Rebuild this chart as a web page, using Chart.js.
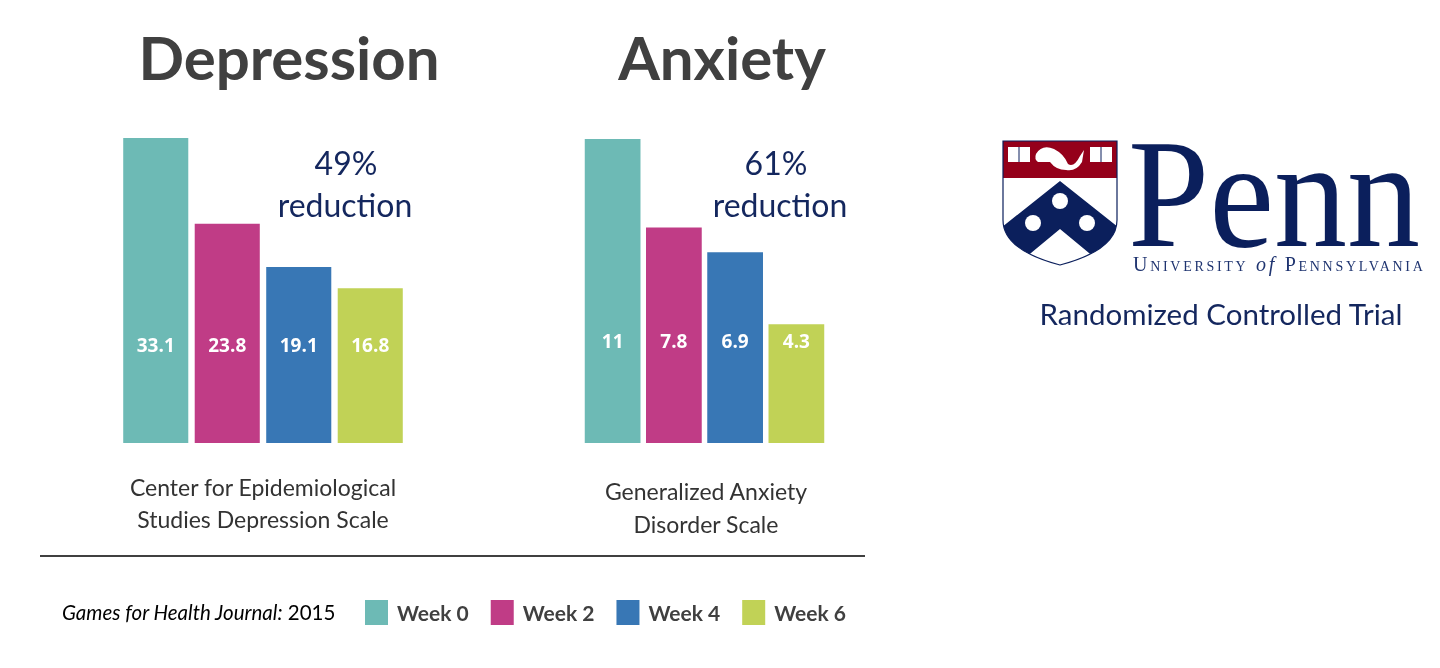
<!DOCTYPE html>
<html>
<head>
<meta charset="utf-8">
<script src="https://cdn.jsdelivr.net/npm/chart.js@4.4.0/dist/chart.umd.min.js"></script>
<style>
  body { margin: 0; background: #fff; width: 1440px; height: 668px; position: relative; overflow: hidden; }
  canvas, svg { position: absolute; }
  #depChart { left: 120px; top: 138px; }
  #anxChart { left: 582px; top: 139px; }
  #overlay { left: 0; top: 0; }
</style>
</head>
<body>
<canvas id="depChart" width="286" height="305"></canvas>
<canvas id="anxChart" width="245" height="304"></canvas>

<svg id="overlay" width="1440" height="668" xmlns="http://www.w3.org/2000/svg">
  <g font-family="Lato, sans-serif">
    <text x="289" y="80" text-anchor="middle" font-size="60" font-weight="bold" fill="#404040">Depression</text>
    <text x="722" y="80" text-anchor="middle" font-size="60" font-weight="bold" fill="#404040">Anxiety</text>

    <text x="346" y="175" text-anchor="middle" font-size="32" fill="#14275e">49%</text>
    <text x="345" y="217" text-anchor="middle" font-size="32" fill="#14275e">reduction</text>
    <text x="776" y="175" text-anchor="middle" font-size="32" fill="#14275e">61%</text>
    <text x="780" y="217" text-anchor="middle" font-size="32" fill="#14275e">reduction</text>

    <text x="263" y="496" text-anchor="middle" font-size="23" fill="#333">Center for Epidemiological</text>
    <text x="263" y="528" text-anchor="middle" font-size="23" fill="#333">Studies Depression Scale</text>
    <text x="706" y="500" text-anchor="middle" font-size="23" fill="#333">Generalized Anxiety</text>
    <text x="706" y="533" text-anchor="middle" font-size="23" fill="#333">Disorder Scale</text>

    <text x="62" y="620" font-size="20.5" fill="#000"><tspan font-style="italic">Games for Health Journal:</tspan> 2015</text>

    <text x="1221" y="325" text-anchor="middle" font-size="29.5" fill="#14275e">Randomized Controlled Trial</text>
  </g>
  <line x1="40" y1="556" x2="865" y2="556" stroke="#000" stroke-width="1.5"/>
  <g id="legend"></g>

  <!-- Penn shield -->
  <g transform="translate(1002,140)">
    <defs><clipPath id="shield"><path d="M1,1 H115 V80 Q115,110 58,125 Q1,110 1,80 Z"/></clipPath></defs>
    <g clip-path="url(#shield)">
      <rect x="0" y="0" width="116" height="126" fill="#fff"/>
      <rect x="0" y="0" width="116" height="38" fill="#95001a"/>
      <polygon points="58,41 116,87 116,137 58,89 0,137 0,87" fill="#0b1f5c"/>
      <circle cx="58" cy="61" r="8" fill="#fff"/>
      <circle cx="31" cy="83" r="8" fill="#fff"/>
      <circle cx="85" cy="83" r="8" fill="#fff"/>
      <!-- books -->
      <rect x="6" y="7" width="22" height="15" fill="#fff"/>
      <line x1="17" y1="7" x2="17" y2="22" stroke="#0b1f5c" stroke-width="1"/>
      <rect x="88" y="7" width="22" height="15" fill="#fff"/>
      <line x1="99" y1="7" x2="99" y2="22" stroke="#0b1f5c" stroke-width="1"/>
      <!-- dolphin -->
      <path d="M34,14 Q40,4 52,9 Q62,14 66,24 Q72,28 78,16 L82,10 L80,22 Q74,32 64,30 Q54,30 48,22 Q42,22 36,22 Q32,19 34,14 Z" fill="#fff"/>
    </g>
    <path d="M1,1 H115 V80 Q115,110 58,125 Q1,110 1,80 Z" fill="none" stroke="#0b1f5c" stroke-width="1.2"/>
  </g>
  <text x="1128" y="246" font-family="Liberation Serif, serif" font-size="155" fill="#0b1f5c" textLength="292" lengthAdjust="spacingAndGlyphs">Penn</text>
  <text x="1133" y="271" font-family="Liberation Serif, serif" font-size="20" fill="#1f3470" letter-spacing="2.7" font-variant="small-caps">University <tspan font-style="italic" font-variant="normal">of</tspan> Pennsylvania</text>
</svg>

<script>
var weeks = ['Week 0', 'Week 2', 'Week 4', 'Week 6'];
var weekColors = ['#6dbab5', '#c03c86', '#3877b5', '#c1d256'];
var depressionScores = [33.1, 23.8, 19.1, 16.8];
var anxietyScores = [11, 7.8, 6.9, 4.3];

// white numbers drawn inside the bars, a fixed distance above the baseline
var valueLabels = {
  id: 'valueLabels',
  afterDatasetsDraw: function(chart, args, opts) {
    var ctx = chart.ctx;
    var values = chart.data.datasets[0].data;
    ctx.save();
    ctx.font = 'bold 19px "Open Sans"';
    ctx.fillStyle = '#fff';
    ctx.textAlign = 'center';
    ctx.textBaseline = 'middle';
    chart.getDatasetMeta(0).data.forEach(function(bar, i) {
      ctx.fillText(String(values[i]), bar.x, chart.chartArea.bottom - opts.offset);
    });
    ctx.restore();
  }
};

function makeChart(id, scores, labelOffset) {
  return new Chart(document.getElementById(id), {
    type: 'bar',
    data: {
      labels: weeks,
      datasets: [{
        data: scores,
        backgroundColor: weekColors,
        borderWidth: 0,
        barPercentage: 1,
        categoryPercentage: 0.91
      }]
    },
    options: {
      responsive: false,
      animation: false,
      layout: { padding: 0 },
      plugins: {
        legend: { display: false },
        tooltip: { enabled: false },
        valueLabels: { offset: labelOffset }
      },
      scales: {
        x: { display: false },
        y: { display: false, min: 0, max: Math.max.apply(null, scores) }
      }
    },
    plugins: [valueLabels]
  });
}

var depChart = makeChart('depChart', depressionScores, 96);
var anxChart = makeChart('anxChart', anxietyScores, 100);

// legend boxes and names
var ns = 'http://www.w3.org/2000/svg';
var legend = document.getElementById('legend');
var lx = 365;
weeks.forEach(function(w, i) {
  var box = document.createElementNS(ns, 'rect');
  box.setAttribute('x', lx);
  box.setAttribute('y', 600);
  box.setAttribute('width', 23);
  box.setAttribute('height', 25);
  box.setAttribute('fill', weekColors[i]);
  legend.appendChild(box);
  var t = document.createElementNS(ns, 'text');
  t.setAttribute('x', lx + 32);
  t.setAttribute('y', 621);
  t.setAttribute('font-family', 'Lato, sans-serif');
  t.setAttribute('font-weight', 'bold');
  t.setAttribute('font-size', 21);
  t.setAttribute('fill', '#404040');
  t.textContent = w;
  legend.appendChild(t);
  lx = lx + 32 + t.getComputedTextLength() + 22;
});
</script>
</body>
</html>
